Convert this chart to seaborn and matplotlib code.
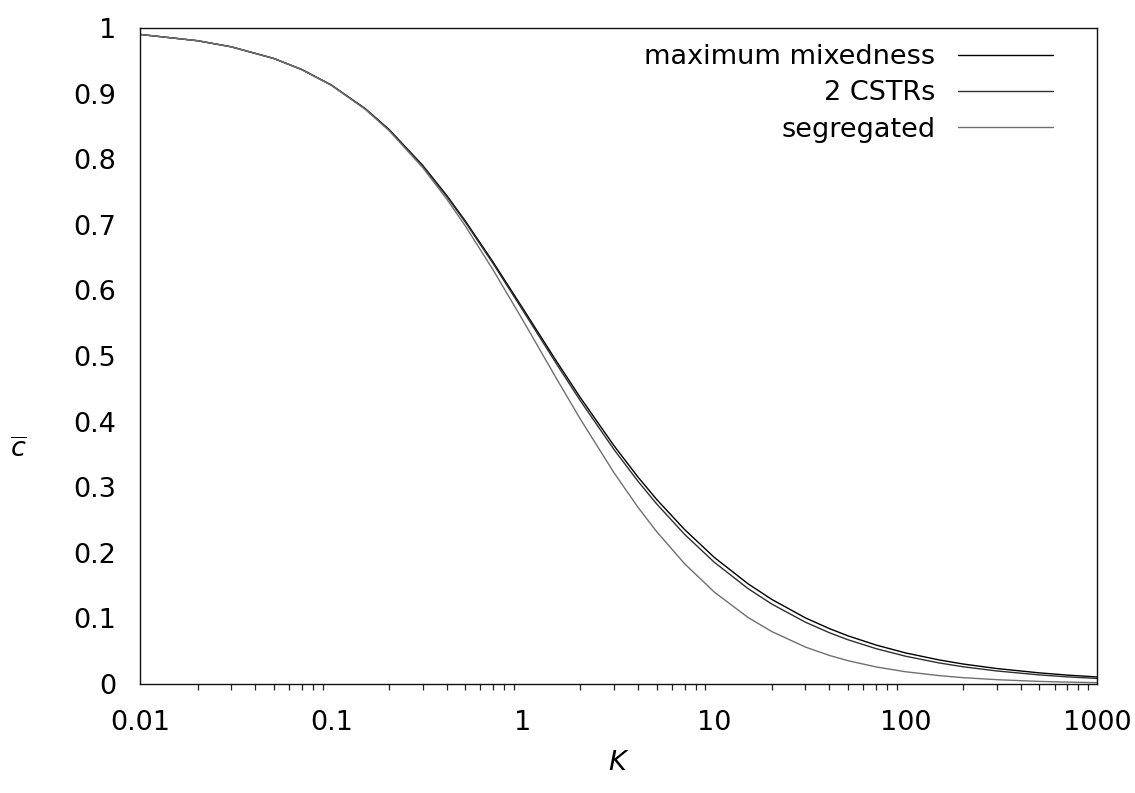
import numpy as np
import pandas as pd
import matplotlib
matplotlib.use("Agg")
import matplotlib.pyplot as plt
import seaborn as sns
from matplotlib.ticker import LogLocator, NullFormatter, FixedLocator, FixedFormatter
from matplotlib.lines import Line2D

# ---- data ----
K = [0.01, 0.02, 0.03, 0.05, 0.07, 0.1, 0.15, 0.2, 0.3, 0.4, 0.5, 0.7, 1, 1.5, 2, 3,
     4, 5, 7, 10, 15, 20, 30, 40, 50, 70, 100, 150, 200, 300, 500, 700, 1000]
max_mix = [0.9902, 0.9806, 0.9713, 0.9536, 0.9368, 0.9131, 0.8773, 0.8455, 0.7907,
           0.7450, 0.7062, 0.6431, 0.5727, 0.4920, 0.4365, 0.3630, 0.3154, 0.2815,
           0.2355, 0.1931, 0.1529, 0.1289, 0.1007, 0.0844, 0.0734, 0.0594, 0.0473,
           0.0366, 0.0304, 0.0235, 0.0169, 0.0135, 0.0107]
two_cstrs = [0.9902, 0.9806, 0.9713, 0.9535, 0.9366, 0.9128, 0.8768, 0.8447, 0.7895,
             0.7435, 0.7044, 0.6408, 0.5697, 0.4880, 0.4317, 0.3572, 0.3090, 0.2747,
             0.2282, 0.1857, 0.1456, 0.1218, 0.0941, 0.0781, 0.0674, 0.0539, 0.0423,
             0.0320, 0.0262, 0.0198, 0.0138, 0.0108, 0.0084]
segregated = [0.9902, 0.9806, 0.9713, 0.9535, 0.9365, 0.9126, 0.8763, 0.8437, 0.7872,
              0.7395, 0.6986, 0.6312, 0.5547, 0.4656, 0.4037, 0.3218, 0.2693, 0.2324,
              0.1834, 0.1403, 0.1015, 0.0799, 0.0562, 0.0435, 0.0355, 0.0260, 0.0186,
              0.0127, 0.0096, 0.0065, 0.0039, 0.0028, 0.0020]
series_names = ["maximum mixedness", "2 CSTRs", "segregated"]
x_ticks = [0.01, 0.1, 1, 10, 100, 1000]
x_tick_labels = ["0.01", "0.1", "1", "10", "100", "1000"]
y_ticks = [0, 0.1, 0.2, 0.3, 0.4, 0.5, 0.6, 0.7, 0.8, 0.9, 1]
y_tick_labels = ["0", "0.1", "0.2", "0.3", "0.4", "0.5", "0.6", "0.7", "0.8", "0.9", "1"]

df = pd.concat([
    pd.DataFrame({"K": K, "c": max_mix, "model": series_names[0]}),
    pd.DataFrame({"K": K, "c": two_cstrs, "model": series_names[1]}),
    pd.DataFrame({"K": K, "c": segregated, "model": series_names[2]}),
])

sns.set_theme(style="white")
plt.rcParams["font.family"] = ["DejaVu Sans"]
plt.rcParams["mathtext.fontset"] = "dejavusans"
plt.rcParams["text.color"] = "black"
plt.rcParams["axes.labelcolor"] = "black"

fig = plt.figure(figsize=(11.35, 7.93), dpi=100)
ax = fig.add_axes([0.1233, 0.1375, 0.8432, 0.8272])

palette = {series_names[0]: "#000000", series_names[1]: "#303030", series_names[2]: "#707070"}
sns.lineplot(data=df, x="K", y="c", hue="model", palette=palette, linewidth=1.0,
             ax=ax, legend=False, estimator=None, sort=True)

ax.set_xscale("log")
ax.set_xlim(0.01, 1000)
ax.set_ylim(0, 1)

ax.xaxis.set_major_locator(FixedLocator(x_ticks))
ax.xaxis.set_major_formatter(FixedFormatter(x_tick_labels))
ax.xaxis.set_minor_locator(LogLocator(base=10, subs=np.arange(2, 10), numticks=20))
ax.xaxis.set_minor_formatter(NullFormatter())
ax.yaxis.set_major_locator(FixedLocator(y_ticks))
ax.yaxis.set_major_formatter(FixedFormatter(y_tick_labels))

ax.tick_params(axis="both", which="major", direction="out", length=7, width=1.0,
               color="#222222", labelsize=19.5, labelcolor="black")
ax.tick_params(axis="x", which="major", pad=12)
ax.tick_params(axis="y", which="major", pad=10)
ax.tick_params(axis="x", which="minor", direction="out", length=4.5, width=0.9,
               color="#222222", bottom=True)
ax.tick_params(top=False, right=False, which="both")

for s in ax.spines.values():
    s.set_visible(True)
    s.set_color("#111111")
    s.set_linewidth(1.0)

ax.set_xlabel(r"$K$", fontsize=19.5, labelpad=10)
ax.set_ylabel(r"$\overline{c}$", fontsize=19.5, rotation=0, va="center", ha="center")
ax.yaxis.set_label_coords(-0.127, 0.357)

handles = [Line2D([0], [0], color=palette[n], lw=1.0) for n in series_names]
leg = ax.legend(handles, series_names, loc="upper right", markerfirst=False,
                frameon=False, fontsize=19.5, handlelength=3.5, handletextpad=0.85,
                labelspacing=0.38, borderpad=0, borderaxespad=0,
                bbox_to_anchor=(1053 / 1135, 1 - 44 / 793), bbox_transform=fig.transFigure)
for t in leg.get_texts():
    t.set_ha("right")
leg._legend_box.align = "right"

fig.savefig("out.png", dpi=100)
